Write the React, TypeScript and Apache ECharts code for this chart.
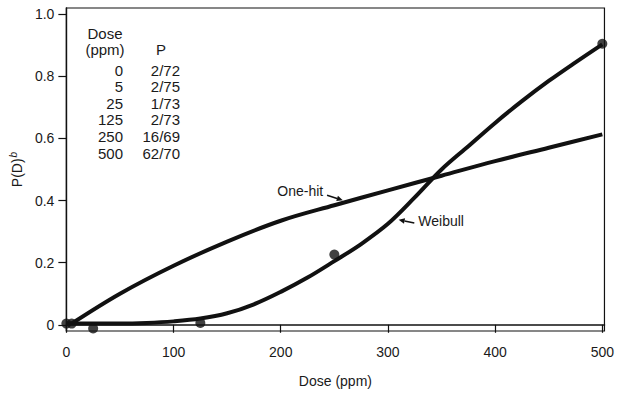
import React, { useEffect, useRef } from 'react';
import * as echarts from 'echarts';

const xTicks = [0, 100, 200, 300, 400, 500];
const yTicks = [0, 0.2, 0.4, 0.6, 0.8, 1.0];

const obsDose = [0, 5, 25, 125, 250, 500];
const obsP = [0.004, 0.004, -0.012, 0.006, 0.226, 0.905];

const oneHitDose = [5, 50, 100, 150, 200, 250, 300, 350, 400, 450, 500];
const oneHitP = [0.004, 0.1, 0.19, 0.268, 0.335, 0.385, 0.433, 0.48, 0.527, 0.57, 0.613];

const weibullDose = [0, 25, 50, 75, 100, 125, 150, 175, 200, 225, 250, 275, 300, 325, 350, 375, 400, 425, 450, 475, 500];
const weibullP = [0.005, 0.004, 0.004, 0.006, 0.011, 0.02, 0.037, 0.066, 0.106, 0.152, 0.205, 0.26, 0.325, 0.41, 0.5, 0.575, 0.65, 0.72, 0.785, 0.845, 0.903];

const tableDose = ['0', '5', '25', '125', '250', '500'];
const tableP = ['2/72', '2/75', '1/73', '2/73', '16/69', '62/70'];

const FONT = '"Liberation Sans", Arial, Helvetica, sans-serif';
const INK = '#111';

export default function App() {
  const ref = useRef<HTMLDivElement>(null);

  useEffect(() => {
    document.body.style.margin = '0';
    const chart = echarts.init(ref.current!, undefined, { renderer: 'svg' });

    const option: any = {
      animation: false,
      backgroundColor: '#fff',
      grid: {
        left: 66,
        right: 2,
        top: 8,
        bottom: 59,
        show: true,
        borderColor: INK,
        borderWidth: 1.2,
        backgroundColor: 'transparent',
      },
      xAxis: {
        type: 'value',
        min: 0,
        max: 502,
        name: 'Dose (ppm)',
        nameLocation: 'middle',
        nameGap: 43,
        nameTextStyle: { fontSize: 14, fontFamily: FONT, color: '#1a1a1a' },
        axisLine: { show: true, lineStyle: { color: INK, width: 1.6 } },
        axisTick: { show: true, length: 8, lineStyle: { color: INK, width: 1.2 }, customValues: xTicks },
        axisLabel: { fontSize: 14, fontFamily: FONT, color: '#1a1a1a', margin: 14, customValues: xTicks, showMaxLabel: true },
        splitLine: { show: false },
      },
      yAxis: {
        type: 'value',
        min: -0.02,
        max: 1.02,
        name: '{a|P(D)}{b|b}',
        nameLocation: 'middle',
        nameRotate: 90,
        nameGap: 40,
        nameTextStyle: {
          fontFamily: FONT,
          color: '#1a1a1a',
          rich: {
            a: { fontSize: 14, fontFamily: FONT, color: '#1a1a1a', verticalAlign: 'bottom' },
            b: { fontSize: 10, fontFamily: FONT, fontStyle: 'italic', color: '#1a1a1a', verticalAlign: 'bottom', padding: [0, 0, 6, 1] },
          },
        },
        axisLine: { show: true, lineStyle: { color: INK, width: 1.4 } },
        axisTick: { show: true, length: 8, lineStyle: { color: INK, width: 1.2 }, customValues: yTicks },
        axisLabel: {
          fontSize: 14,
          fontFamily: FONT,
          color: '#1a1a1a',
          margin: 12,
          customValues: yTicks,
          formatter: (v: number) => (Math.abs(v) < 1e-9 ? '0' : v.toFixed(1)),
        },
        splitLine: { show: false },
      },
      series: [
        {
          name: 'One-hit',
          type: 'line',
          data: oneHitDose.map((d, i) => [d, oneHitP[i]]),
          smooth: 0.35,
          showSymbol: false,
          lineStyle: { color: INK, width: 4 },
          z: 3,
        },
        {
          name: 'Weibull',
          type: 'line',
          data: weibullDose.map((d, i) => [d, weibullP[i]]),
          smooth: 0.35,
          showSymbol: false,
          lineStyle: { color: INK, width: 4 },
          z: 3,
        },
        {
          name: 'Observed',
          type: 'scatter',
          data: obsDose.map((d, i) => [d, obsP[i]]),
          symbol: 'circle',
          symbolSize: 10,
          itemStyle: { color: INK },
          z: 4,
        },
      ],
    };

    chart.setOption(option);

    const px = (d: number, v: number) => chart.convertToPixel({ gridIndex: 0 }, [d, v]) as number[];
    const txt = (text: string, x: number, y: number, align: string, size = 14) => ({
      type: 'text',
      x,
      y,
      style: {
        text,
        fill: '#1a1a1a',
        fontSize: size,
        fontFamily: FONT,
        align,
        verticalAlign: 'middle',
        textAlign: align,
        textVerticalAlign: 'middle',
      },
      z: 10,
    });
    const arrow = (d1: number, v1: number, d2: number, v2: number) => {
      const [x1, y1] = px(d1, v1);
      const [x2, y2] = px(d2, v2);
      const dx = x2 - x1;
      const dy = y2 - y1;
      const len = Math.sqrt(dx * dx + dy * dy);
      const ux = dx / len;
      const uy = dy / len;
      const hl = 6;
      const hw = 2.8;
      const bx = x2 - ux * hl;
      const by = y2 - uy * hl;
      return [
        { type: 'line', shape: { x1, y1, x2: bx, y2: by }, style: { stroke: INK, lineWidth: 1.5 }, z: 10 },
        {
          type: 'polygon',
          shape: { points: [[x2, y2], [bx - uy * hw, by + ux * hw], [bx + uy * hw, by - ux * hw]] },
          style: { fill: INK },
          z: 10,
        },
      ];
    };

    const oneHitLbl = px(239.6, 0.43);
    const weibullLbl = px(328.3, 0.334);

    const graphic: any[] = [
      txt('One-hit', oneHitLbl[0], oneHitLbl[1], 'right'),
      ...arrow(243.2, 0.417, 257.9, 0.401),
      txt('Weibull', weibullLbl[0], weibullLbl[1], 'left'),
      ...arrow(324.6, 0.328, 310, 0.338),
      txt('Dose', 105, 33, 'center', 15),
      txt('(ppm)', 105, 49, 'center', 15),
      txt('P', 161, 49, 'center', 15),
    ];
    tableDose.forEach((d, i) => {
      graphic.push(txt(d, 123, 70 + i * 16.6, 'right', 15));
      graphic.push(txt(tableP[i], 180, 70 + i * 16.6, 'right', 15));
    });

    chart.setOption({ graphic });

    return () => chart.dispose();
  }, []);

  return <div ref={ref} style={{ width: 617, height: 393, position: 'absolute', left: 0, top: 0 }} />;
}
